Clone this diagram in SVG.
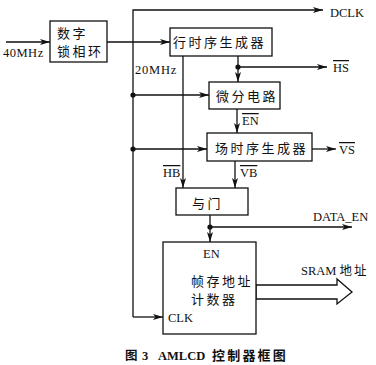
<svg xmlns="http://www.w3.org/2000/svg" width="376" height="365" viewBox="0 0 376 365">
<defs>
<marker id="ah" viewBox="0 0 10 6" refX="10" refY="3" markerWidth="10" markerHeight="6" markerUnits="userSpaceOnUse" orient="auto">
<path d="M0,0 L10,3 L0,6 L2.5,3 Z" fill="#111"/>
</marker>
<style>
.box{fill:#fff;stroke:#111;stroke-width:1.3}
.ln{fill:none;stroke:#111;stroke-width:1.3}
.arr{fill:none;stroke:#111;stroke-width:1.3;marker-end:url(#ah)}
.dot{fill:#111}
.cn{font-family:"Noto Sans CJK SC","Noto Sans CJK TC",sans-serif;font-size:13px;letter-spacing:2.5px;fill:#111}
.lt{font-family:"Liberation Serif","Noto Sans CJK SC",serif;font-size:12.5px;fill:#111}
.ov{text-decoration:overline}
</style>
</defs>
<rect width="376" height="365" fill="#fff"/>
<g id="connectors">
<path class="arr" d="M6,42 H50"/>
<path class="arr" d="M107,42 H170"/>
<path class="arr" d="M133,317 V10 H323"/>
<path class="arr" d="M133,317 H163"/>
<path class="arr" d="M133,95 H209"/>
<path class="arr" d="M133,149 H207"/>
<path class="arr" d="M183,56 V188"/>
<path class="arr" d="M238,56 V82"/>
<path class="arr" d="M238,67 H327"/>
<path class="arr" d="M237,109 V133"/>
<path class="arr" d="M312,149 H336"/>
<path class="arr" d="M235,161 V188"/>
<path class="arr" d="M210,215 V242"/>
<path class="arr" d="M210,227 H352"/>
<circle class="dot" cx="133" cy="95" r="2.6"/>
<circle class="dot" cx="133" cy="149" r="2.6"/>
<circle class="dot" cx="238" cy="67" r="2.6"/>
<circle class="dot" cx="210" cy="227" r="2.6"/>
<polygon class="box" points="256,285 337,285 337,279 352,292 337,304 337,299 256,299"/>
</g>
<g id="pll">
<rect class="box" x="50" y="21" width="57" height="41"/>
<text class="cn" x="57" y="37.5">数字</text>
<text class="cn" x="57" y="56">锁相环</text>
</g>
<g id="hgen">
<rect class="box" x="170" y="28" width="102" height="28"/>
<text class="cn" x="173" y="47">行时序生成器</text>
</g>
<g id="diff">
<rect class="box" x="209" y="82" width="71" height="27"/>
<text class="cn" x="216" y="100.5">微分电路</text>
</g>
<g id="vgen">
<rect class="box" x="207" y="133" width="105" height="28"/>
<text class="cn" x="215" y="152.5">场时序生成器</text>
</g>
<g id="andgate">
<rect class="box" x="176" y="188" width="72" height="27"/>
<text class="cn" x="192" y="207.5">与门</text>
</g>
<g id="counter">
<rect class="box" x="163" y="242" width="93" height="92"/>
<text class="lt" x="203" y="258">EN</text>
<text class="cn" x="191" y="286">帧存地址</text>
<text class="cn" x="191" y="303.5">计数器</text>
<text class="lt" x="168" y="322">CLK</text>
</g>
<g id="labels">
<text class="lt" x="3" y="57" letter-spacing="0.5">40MHz</text>
<text class="lt" x="135" y="74" letter-spacing="0.8">20MHz</text>
<text class="lt" x="330" y="17">DCLK</text>
<text class="lt ov" x="333" y="72">HS</text>
<text class="lt ov" x="242" y="125">EN</text>
<text class="lt ov" x="339" y="154">VS</text>
<text class="lt ov" x="163" y="177">HB</text>
<text class="lt ov" x="240" y="177">VB</text>
<text class="lt" x="313" y="221">DATA_EN</text>
<text class="lt" x="301" y="275">SRAM <tspan font-family="Noto Sans CJK SC, sans-serif" letter-spacing="2">地址</tspan></text>
<text class="lt" y="359.5" font-weight="bold"><tspan x="125" font-family="Noto Sans CJK SC, sans-serif">图</tspan><tspan x="142">3</tspan><tspan x="158">AMLCD</tspan><tspan x="212" font-family="Noto Sans CJK SC, sans-serif" font-size="13" letter-spacing="2.2">控制器框图</tspan></text>
</g>
</svg>
